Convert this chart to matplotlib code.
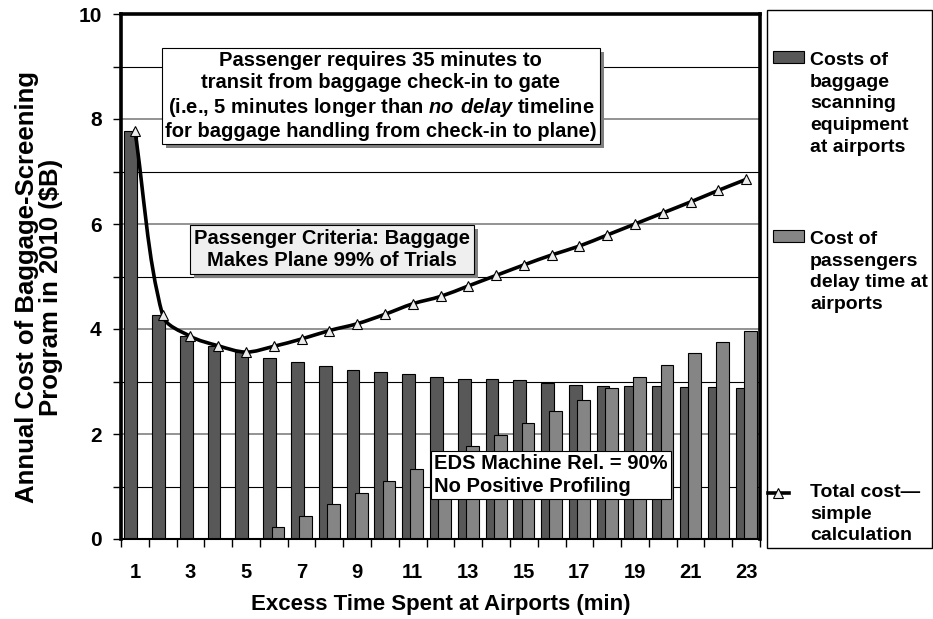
import numpy as np
import matplotlib
matplotlib.use('Agg')
from matplotlib import pyplot as plt
from matplotlib.path import Path
from matplotlib.patches import PathPatch, Rectangle
from matplotlib.lines import Line2D
from matplotlib import patheffects as pe
from matplotlib.ticker import FixedLocator, NullFormatter

plt.rcParams['font.family'] = 'Liberation Sans'
plt.rcParams['font.weight'] = 'bold'
plt.rcParams['mathtext.fontset'] = 'custom'
plt.rcParams['mathtext.bfit'] = 'Liberation Sans:italic:bold'

W, H = 933, 619

minutes = list(range(1, 24))
equipment_cost = [7.78, 4.26, 3.86, 3.68, 3.56, 3.45, 3.37, 3.30, 3.22, 3.18, 3.15, 3.09,
                  3.05, 3.04, 3.02, 2.98, 2.93, 2.91, 2.91, 2.91, 2.90, 2.90, 2.88]
delay_cost = [0, 0, 0, 0, 0, 0.22, 0.44, 0.67, 0.88, 1.10, 1.33, 1.55,
              1.77, 1.99, 2.21, 2.43, 2.65, 2.88, 3.09, 3.31, 3.54, 3.75, 3.97]
total_cost = [7.78, 4.26, 3.86, 3.68, 3.56, 3.67, 3.81, 3.97, 4.10, 4.28, 4.48, 4.62,
              4.82, 5.02, 5.22, 5.41, 5.58, 5.79, 6.00, 6.21, 6.42, 6.64, 6.85]
x_ticklabels = [str(m) for m in minutes if m % 2 == 1]

DARK = '#585858'
LIGHT = '#858585'


def fx(px):
    return px / W


def fy(py):
    return 1 - py / H


def smooth_path(xs, ys, trans):
    # smoothed line like excel: cubic beziers, tangents scaled by chord lengths (in pixels)
    p = trans.transform(np.column_stack([xs, ys]))
    n = len(p)
    d = np.hypot(*np.diff(p, axis=0).T)
    out_c = np.zeros_like(p)
    in_c = np.zeros_like(p)
    out_c[0] = p[0] + (p[1] - p[0]) / 3
    in_c[-1] = p[-1] - (p[-1] - p[-2]) / 3
    for i in range(1, n - 1):
        t = p[i + 1] - p[i - 1]
        s = d[i - 1] + d[i]
        out_c[i] = p[i] + t * d[i] / s / 3
        in_c[i] = p[i] - t * d[i - 1] / s / 3
    verts = [p[0]]
    codes = [Path.MOVETO]
    for i in range(n - 1):
        verts += [out_c[i], in_c[i + 1], p[i + 1]]
        codes += [Path.CURVE4] * 3
    verts = trans.inverted().transform(np.array(verts))
    return Path(verts, codes)


fig = plt.figure(figsize=(W / 100, H / 100), dpi=100)
ax = fig.add_axes([fx(121), fy(539), fx(760) - fx(121), fy(14) - fy(539)])
ax.set_xlim(0.5, 23.5)
ax.set_ylim(0, 10)

xs_dark = [m - 0.15 for m in minutes]
xs_light = [m + 0.15 for m in minutes]
ax.bar(xs_dark, equipment_cost, width=0.46, color=DARK, edgecolor='black', linewidth=0.8, zorder=3)
ax.bar(xs_light, delay_cost, width=0.46, color=LIGHT, edgecolor='black', linewidth=0.8, zorder=4)

ax.add_patch(PathPatch(smooth_path(minutes, total_cost, ax.transData), fill=False, lw=2.6,
                       edgecolor='black', zorder=5, capstyle='round'))
ax.plot(minutes, total_cost, linestyle='none', marker='^', markersize=7.5,
        markerfacecolor='#ececec', markeredgecolor='black', markeredgewidth=0.8, zorder=6)

# y axis
ax.yaxis.set_major_locator(FixedLocator([0, 2, 4, 6, 8, 10]))
ax.yaxis.set_minor_locator(FixedLocator([1, 3, 5, 7, 9]))
ax.tick_params(axis='y', which='both', direction='out', length=6, width=1, labelsize=15, pad=8)
for v in [2, 4, 6, 8]:
    ax.axhline(v, color='#808080', lw=1.2, zorder=1)
for v in [1, 3, 5, 7, 9]:
    ax.axhline(v, color='black', lw=0.8, zorder=1)

# x axis: ticks between categories, labels on odd minutes
ax.xaxis.set_major_locator(FixedLocator([m for m in minutes if m % 2 == 1]))
ax.set_xticklabels(x_ticklabels)
ax.xaxis.set_minor_locator(FixedLocator([m + 0.5 for m in range(0, 24)]))
ax.xaxis.set_minor_formatter(NullFormatter())
ax.tick_params(axis='x', which='major', length=0, labelsize=14.5, pad=17)
ax.tick_params(axis='x', which='minor', direction='out', length=6, width=1)

for side in ['left', 'top', 'right']:
    ax.spines[side].set_linewidth(2.6)
ax.spines['bottom'].set_linewidth(1.5)
for s in ax.spines.values():
    s.set_zorder(7)

ax.set_xlabel('Excess Time Spent at Airports (min)', fontsize=16, fontweight='bold')
ax.xaxis.set_label_coords(0.5, -0.105)
ax.set_ylabel('Annual Cost of Baggage-Screening\nProgram in 2010 ($B)', fontsize=18.5,
              fontweight='bold', linespacing=1.05)
ax.yaxis.set_label_coords(-0.09, 0.48)

shadow = [pe.SimplePatchShadow(offset=(3, -3), shadow_rgbFace='#808080', alpha=1), pe.Normal()]

t1 = ax.text(9.85, 8.44,
             'Passenger requires 35 minutes to\n'
             'transit from baggage check-in to gate\n'
             '(i.e., 5 minutes longer than $\\mathbfit{no\\ delay}$ timeline\n'
             'for baggage handling from check-in to plane)',
             ha='center', va='center', fontsize=14.5, linespacing=1.22, zorder=8,
             bbox=dict(boxstyle='square,pad=0.15', fc='white', ec='black', lw=0.8))
t1.get_bbox_patch().set_path_effects(shadow)

t2 = ax.text(8.08, 5.52, 'Passenger Criteria: Baggage\nMakes Plane 99% of Trials',
             ha='center', va='center', fontsize=14.5, linespacing=1.22, zorder=8,
             bbox=dict(boxstyle='square,pad=0.2', fc='#efefef', ec='black', lw=0.8))
t2.get_bbox_patch().set_path_effects(shadow)

ax.text(15.97, 1.22, 'EDS Machine Rel. = 90%\nNo Positive Profiling',
        ha='center', va='center', multialignment='left', fontsize=14.5, linespacing=1.22,
        zorder=8, bbox=dict(boxstyle='square,pad=0.15', fc='white', ec='black', lw=0.8))

# legend panel
fig.add_artist(Rectangle((fx(767), fy(548)), fx(932) - fx(767), fy(10) - fy(548),
                         transform=fig.transFigure, fill=False, ec='black', lw=1))
fig.add_artist(Rectangle((fx(773), fy(62.7)), fx(804) - fx(773), fy(51) - fy(62.7),
                         transform=fig.transFigure, fc=DARK, ec='black', lw=0.8))
fig.add_artist(Rectangle((fx(773), fy(241.7)), fx(804) - fx(773), fy(230) - fy(241.7),
                         transform=fig.transFigure, fc=LIGHT, ec='black', lw=0.8))
fig.add_artist(Line2D([fx(768), fx(789)], [fy(493), fy(493)], transform=fig.transFigure,
                      color='black', lw=2.6))
fig.add_artist(Line2D([fx(778)], [fy(493)], transform=fig.transFigure, marker='^',
                      markersize=7, markerfacecolor='#ececec', markeredgecolor='black',
                      markeredgewidth=0.8))

legend_labels = ['Costs of\nbaggage\nscanning\nequipment\nat airports',
                 'Cost of\npassengers\ndelay time at\nairports',
                 'Total cost\u2014\nsimple\ncalculation']
legend_tops = [52, 231, 484]
for lab, top in zip(legend_labels, legend_tops):
    fig.text(fx(810), fy(top), lab, ha='left', va='top', fontsize=14, linespacing=1.36)

fig.savefig('out.png', dpi=100)
